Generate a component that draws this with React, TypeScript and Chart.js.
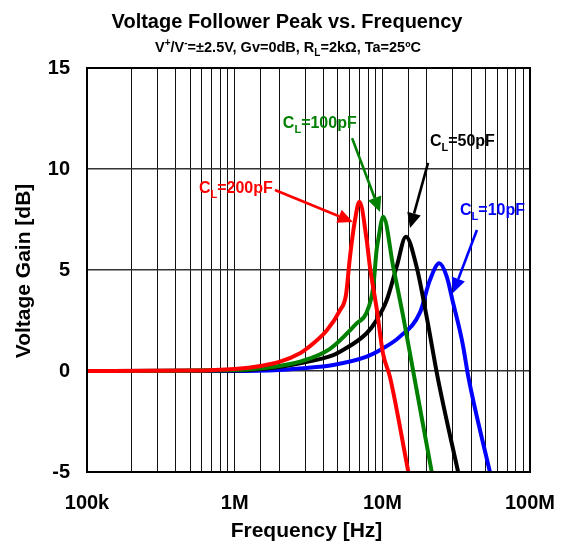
import React, { useEffect, useRef } from 'react';
import { Chart, registerables } from 'chart.js';
Chart.register(...registerables);

// ---- data ----
const FREQ_200P = [1e5, 5e5, 1e6, 1.5e6, 2.03e6, 2.77e6, 3.07e6, 4.2e6, 5.16e6, 5.67e6, 6.04e6, 6.53e6, 7.0e6, 7.83e6, 8.24e6, 9.15e6, 10.1e6, 11.25e6, 15e6];
const GAIN_200P = [0, 0.02, 0.1, 0.25, 0.46, 0.88, 1.1, 2.0, 3.0, 3.76, 5.66, 7.48, 8.38, 6.5, 5.16, 3.1, 0.87, -0.28, -5];

const FREQ_100P = [1e5, 1e6, 2e6, 2.77e6, 4.42e6, 6.7e6, 7.83e6, 8.68e6, 9.15e6, 9.38e6, 10.15e6, 11.85e6, 13.85e6, 16.6e6, 21.6e6];
const GAIN_100P = [0, 0.05, 0.25, 0.46, 1.1, 2.36, 2.9, 4.17, 6.0, 6.5, 7.64, 5.16, 2.69, -0.45, -5];

const FREQ_50P = [1e5, 1e6, 2e6, 2.77e6, 4.65e6, 5.16e6, 7.83e6, 9.15e6, 10.7e6, 12.5e6, 14.45e6, 17.06e6, 19.95e6, 23.9e6, 32.6e6];
const GAIN_50P = [0, 0.03, 0.2, 0.38, 0.79, 0.95, 1.87, 2.52, 3.5, 5.16, 6.65, 5.16, 2.69, -0.45, -5];

const FREQ_10P = [1e5, 1e6, 2e6, 2.77e6, 4.65e6, 7.83e6, 10e6, 13.15e6, 18e6, 21e6, 24.3e6, 27.3e6, 30.2e6, 33.5e6, 35.3e6, 38.2e6, 53.5e6];
const GAIN_10P = [0, 0, 0.05, 0.13, 0.3, 0.71, 1.1, 1.7, 2.9, 4.5, 5.33, 4.67, 3.35, 2.0, 1.2, -0.28, -5];

const X_TICK_VALUES = [1e5, 1e6, 1e7, 1e8];
const X_TICK_LABELS = ['100k', '1M', '10M', '100M'];
const Y_MIN = -5;
const Y_MAX = 15;
const Y_STEP = 5;

const TITLE = 'Voltage Follower Peak vs. Frequency';
const X_TITLE = 'Frequency [Hz]';
const Y_TITLE = 'Voltage Gain [dB]';

type Seg = { t: string; m?: 'sub' | 'sup' };
const SUBTITLE: Seg[] = [
  { t: 'V' }, { t: '+', m: 'sup' }, { t: '/V' }, { t: '-', m: 'sup' },
  { t: '=±2.5V, Gv=0dB, R' }, { t: 'L', m: 'sub' }, { t: '=2kΩ, Ta=25ºC' },
];

const SERIES_NAMES = ['200pF', '100pF', '50pF', '10pF'];
const COLORS = ['#ff0000', '#008000', '#000000', '#0000ff'];

// annotation anchors in data space: [labelF, labelDb, arrowFromF, arrowFromDb, arrowToF, arrowToDb]
const ANNOTATIONS: number[][] = [
  [5.73e5, 8.81, 1.875e6, 8.96, 6.32e6, 7.38],
  [2.12e6, 12.03, 6.24e6, 11.53, 9.64e6, 7.87],
  [21.0e6, 11.14, 20.4e6, 10.3, 15.4e6, 7.08],
  [33.6e6, 7.72, 43.7e6, 6.98, 30.1e6, 3.86],
];

const FONT = '"Liberation Sans", Arial, Helvetica, sans-serif';

function richWidth(ctx: CanvasRenderingContext2D, segs: Seg[], size: number) {
  let w = 0;
  for (const s of segs) {
    const sz = s.m ? Math.round(size * 0.7) : size;
    ctx.font = `bold ${sz}px ${FONT}`;
    w += ctx.measureText(s.t).width;
  }
  return w;
}

function drawRich(ctx: CanvasRenderingContext2D, segs: Seg[], x: number, y: number, size: number, color: string) {
  let cx = x;
  ctx.fillStyle = color;
  ctx.textBaseline = 'alphabetic';
  ctx.textAlign = 'left';
  for (const s of segs) {
    const sz = s.m ? Math.round(size * 0.7) : size;
    ctx.font = `bold ${sz}px ${FONT}`;
    let dy = 0;
    if (s.m === 'sub') dy = size * 0.3;
    if (s.m === 'sup') dy = -size * 0.38;
    ctx.fillText(s.t, cx, y + dy);
    cx += ctx.measureText(s.t).width;
  }
}

function drawArrow(ctx: CanvasRenderingContext2D, x1: number, y1: number, x2: number, y2: number, color: string) {
  const ang = Math.atan2(y2 - y1, x2 - x1);
  const hl = 15, hw = 7;
  const bx = x2 - hl * Math.cos(ang);
  const by = y2 - hl * Math.sin(ang);
  ctx.strokeStyle = color;
  ctx.fillStyle = color;
  ctx.lineWidth = 2.6;
  ctx.beginPath();
  ctx.moveTo(x1, y1);
  ctx.lineTo(bx, by);
  ctx.stroke();
  ctx.beginPath();
  ctx.moveTo(x2, y2);
  ctx.lineTo(bx + hw * Math.sin(ang), by - hw * Math.cos(ang));
  ctx.lineTo(bx - hw * Math.sin(ang), by + hw * Math.cos(ang));
  ctx.closePath();
  ctx.fill();
}

const decorPlugin = {
  id: 'decor',
  afterDraw(chart: any) {
    const ctx: CanvasRenderingContext2D = chart.ctx;
    const { left, right, top, bottom } = chart.chartArea;
    const xs = chart.scales.x;
    const ys = chart.scales.y;
    ctx.save();
    // frame
    ctx.strokeStyle = '#000';
    ctx.lineWidth = 2;
    ctx.strokeRect(left, top, right - left, bottom - top);

    // titles
    ctx.fillStyle = '#000';
    ctx.textAlign = 'center';
    ctx.textBaseline = 'alphabetic';
    ctx.font = `bold 20px ${FONT}`;
    ctx.fillText(TITLE, 287, 28);
    const sw = richWidth(ctx, SUBTITLE, 14.5);
    drawRich(ctx, SUBTITLE, 288 - sw / 2, 52, 14.5, '#000');

    // axis titles
    ctx.font = `bold 21px ${FONT}`;
    ctx.textAlign = 'center';
    ctx.textBaseline = 'middle';
    ctx.fillStyle = '#000';
    ctx.fillText(X_TITLE, (left + right) / 2 - 2, 531);
    ctx.save();
    ctx.translate(24, (top + bottom) / 2 + 1);
    ctx.rotate(-Math.PI / 2);
    ctx.fillText(Y_TITLE, 0, 0);
    ctx.restore();

    // annotations
    ANNOTATIONS.forEach((a, i) => {
      const col = COLORS[i];
      const segs: Seg[] = [{ t: 'C' }, { t: 'L', m: 'sub' }, { t: '=' + SERIES_NAMES[i] }];
      drawRich(ctx, segs, xs.getPixelForValue(a[0]), ys.getPixelForValue(a[1]), 16, col);
      drawArrow(ctx, xs.getPixelForValue(a[2]), ys.getPixelForValue(a[3]), xs.getPixelForValue(a[4]), ys.getPixelForValue(a[5]), col);
    });
    ctx.restore();
  },
};

function toPoints(f: number[], g: number[]) {
  return f.map((v, i) => ({ x: v, y: g[i] }));
}

function zeroPad(s: any) {
  s.paddingLeft = 0;
  s.paddingRight = 0;
  s.paddingTop = 0;
  s.paddingBottom = 0;
}

export default function App() {
  const ref = useRef<HTMLCanvasElement | null>(null);
  useEffect(() => {
    if (!ref.current) return;
    const series = [
      [FREQ_200P, GAIN_200P],
      [FREQ_100P, GAIN_100P],
      [FREQ_50P, GAIN_50P],
      [FREQ_10P, GAIN_10P],
    ];
    const chart = new Chart(ref.current, {
      type: 'line',
      data: {
        datasets: series.map((s, i) => ({
          label: 'CL=' + SERIES_NAMES[i],
          data: toPoints(s[0], s[1]),
          borderColor: COLORS[i],
          backgroundColor: COLORS[i],
          borderWidth: 4,
          pointRadius: 0,
          cubicInterpolationMode: 'monotone' as const,
          fill: false,
        })),
      },
      options: {
        animation: false,
        responsive: false,
        maintainAspectRatio: false,
        layout: { padding: { top: 68, right: 33, left: 0, bottom: 0 } },
        plugins: { legend: { display: false }, tooltip: { enabled: false }, title: { display: false } },
        scales: {
          x: {
            type: 'logarithmic',
            min: X_TICK_VALUES[0],
            max: X_TICK_VALUES[X_TICK_VALUES.length - 1],
            afterFit: (s: any) => { s.height = 72; zeroPad(s); },
            grid: { color: '#111', lineWidth: 1, drawTicks: false },
            border: { display: false },
            ticks: {
              autoSkip: false,
              maxRotation: 0,
              padding: 19,
              color: '#000',
              font: { family: FONT, size: 20, weight: 'bold' },
              callback: (v: any) => {
                const idx = X_TICK_VALUES.findIndex((t) => Math.abs(t - Number(v)) / t < 1e-6);
                return idx >= 0 ? X_TICK_LABELS[idx] : '';
              },
            },
          },
          y: {
            type: 'linear',
            min: Y_MIN,
            max: Y_MAX,
            afterFit: (s: any) => { s.width = 87; zeroPad(s); },
            grid: { color: '#333', lineWidth: 1.5, drawTicks: false },
            border: { display: false },
            ticks: {
              stepSize: Y_STEP,
              padding: 17,
              color: '#000',
              font: { family: FONT, size: 20, weight: 'bold' },
            },
          },
        },
      },
      plugins: [decorPlugin],
    } as any);
    return () => chart.destroy();
  }, []);
  return (
    <div style={{ position: 'absolute', left: 0, top: 0, width: 563, height: 544, background: '#fff' }}>
      <canvas ref={ref} width={563} height={544} style={{ width: 563, height: 544, display: 'block' }} />
    </div>
  );
}
